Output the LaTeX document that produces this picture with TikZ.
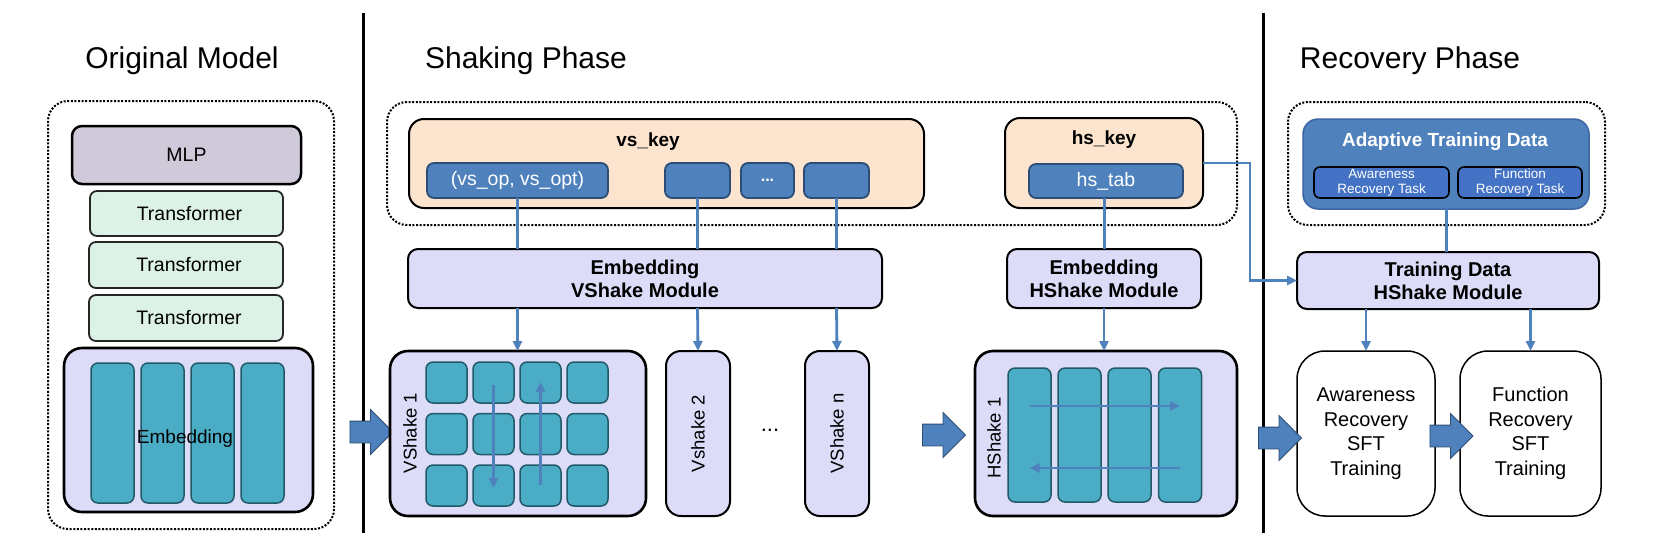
\documentclass[tikz,border=0pt]{standalone}
\usepackage{fontspec}
\setmainfont{Liberation Sans}
\usetikzlibrary{arrows.meta,shapes.arrows}
\definecolor{kblue}{HTML}{4F81BD}
\definecolor{kbluedark}{HTML}{2C4D75}
\definecolor{kblueline}{HTML}{3D66A3}
\definecolor{kpeach}{HTML}{FCE4CE}
\definecolor{klav}{HTML}{DCDCF9}
\definecolor{kmlp}{HTML}{CFC9D9}
\definecolor{ktrans}{HTML}{DCF2E6}
\definecolor{kteal}{HTML}{4BACC6}
\definecolor{ktealdark}{HTML}{215967}
\definecolor{ktask}{HTML}{4472C4}
\tikzset{
  every node/.style={inner sep=0pt, outer sep=0pt},
  title/.style={font=\fontsize{30}{36}\selectfont, anchor=base},
  dotbox/.style={draw=black, line width=2pt, dash pattern=on 2pt off 1.6pt, rounded corners=20pt},
  mlpbox/.style={draw=black, line width=2.5pt, fill=kmlp, rounded corners=10pt, font=\fontsize{19.5}{23}\selectfont},
  transbox/.style={draw=black!85, line width=1.8pt, fill=ktrans, rounded corners=7pt, font=\fontsize{19.5}{23}\selectfont},
  lavbox/.style={draw=black, line width=2.6pt, fill=klav, rounded corners=18pt},
  modbox/.style={draw=black, line width=2pt, fill=klav, rounded corners=10pt, align=center, font=\bfseries\fontsize{20}{23}\selectfont},
  peachbox/.style={draw=black, line width=2pt, fill=kpeach, rounded corners=15pt},
  keybox/.style={draw=kbluedark, line width=1.8pt, fill=kblue, rounded corners=7pt, text=white, font=\fontsize{19.5}{23}\selectfont},
  tealcell/.style={draw=ktealdark, line width=1.5pt, fill=kteal, rounded corners=7pt},
  slimbox/.style={draw=black, line width=2pt, fill=klav, rounded corners=15pt},
  sftbox/.style={draw=black, line width=1.5pt, fill=white, rounded corners=28pt, align=center, font=\fontsize{20}{24.5}\selectfont},
  adabox/.style={draw=kblueline, line width=1.5pt, fill=kblue, rounded corners=15pt},
  taskbox/.style={draw=black, line width=1.6pt, fill=ktask, rounded corners=6pt, text=white, align=center, font=\fontsize{13.5}{15}\selectfont},
  conn/.style={draw=kblue, line width=3pt},
  connarrow/.style={draw=kblue, line width=2.8pt, -{Triangle[length=10pt,width=9pt]}},
  blockarrow/.style={single arrow, draw=kbluedark, fill=kblue, line width=0.8pt, inner xsep=0pt, inner ysep=10.5pt, single arrow head extend=11.5pt, minimum height=43pt},
  rotlabel/.style={rotate=90, font=\fontsize{18.5}{22}\selectfont},
}
\begin{document}
\begin{tikzpicture}[x=1pt, y=-1pt]
\useasboundingbox[fill=white] (0,0) rectangle (1661,542);

% phase separators
\coordinate (s1a) at (363,13); \coordinate (s1b) at (363,533);
\coordinate (s2a) at (1263,13); \coordinate (s2b) at (1263,533);
\draw[line width=3pt] (s1a) -- (s1b);
\draw[line width=3pt] (s2a) -- (s2b);

% titles
\node[title] (t1) at (182,68) {Original Model};
\node[title] (t2) at (526,68) {Shaking Phase};
\node[title] (t3) at (1410,68) {Recovery Phase};

% ---------------- Original model ----------------
\node[dotbox, minimum width=286pt, minimum height=428pt] (orig) at (191,315) {};
\node[mlpbox, minimum width=229pt, minimum height=58pt] (mlp) at (186.5,155) {MLP};
\node[transbox, minimum width=193pt, minimum height=45pt] (tr1) at (186.5,213.5) {\hspace*{6pt}Transformer};
\node[transbox, minimum width=194pt, minimum height=46pt] (tr2) at (186,265) {\hspace*{6pt}Transformer};
\node[transbox, minimum width=194pt, minimum height=46pt] (tr3) at (186,318) {\hspace*{6pt}Transformer};
\node[lavbox, minimum width=249pt, minimum height=164pt] (emb) at (188.5,430) {};
\foreach \i/\cx in {1/112.5,2/162.5,3/212.5,4/262.5}
  \node[tealcell, minimum width=43pt, minimum height=140pt] (ec\i) at (\cx,433) {};
\node[font=\fontsize{19}{23}\selectfont] (embt) at (185,439) {Embedding};

\node[blockarrow] (ba1) at (366,432) {};

% ---------------- Shaking phase ----------------
\node[dotbox, minimum width=850pt, minimum height=123pt] (shk) at (812,163.5) {};
\node[peachbox, minimum width=515pt, minimum height=89pt] (vskey) at (666.5,163.5) {};
\node[font=\bfseries\fontsize{19}{23}\selectfont] (vskeyt) at (648,142) {vs\_key};
\node[keybox, minimum width=181pt, minimum height=35pt] (vsop) at (517.5,180.5) {(vs\_op, vs\_opt)};
\node[keybox, minimum width=65pt, minimum height=35pt] (vb2) at (697.5,180.5) {};
\node[keybox, minimum width=53pt, minimum height=35pt, font=\bfseries\fontsize{16}{20}\selectfont] (vb3) at (767.5,180.5) {...};
\node[keybox, minimum width=65pt, minimum height=35pt] (vb4) at (836.5,180.5) {};

\node[peachbox, minimum width=198pt, minimum height=90pt] (hskey) at (1104,163) {};
\node[font=\bfseries\fontsize{19}{23}\selectfont] (hskeyt) at (1104,140) {hs\_key};
\node[keybox, minimum width=154pt, minimum height=34pt] (hstab) at (1106,181) {hs\_tab};

\node[modbox, minimum width=474pt, minimum height=59pt] (embV) at (645,278.5) {Embedding\\VShake Module};
\node[modbox, minimum width=194pt, minimum height=59pt] (embH) at (1104,278.5) {Embedding\\HShake Module};

\draw[conn] (vsop.south) -- (vsop.south |- embV.north);
\draw[conn] (vb2.south) -- (vb2.south |- embV.north);
\draw[conn] (vb4.south) -- (vb4.south |- embV.north);
\draw[conn] (hstab.south -| embH.north) -- (embH.north);

% VShake boxes
\node[lavbox, minimum width=256pt, minimum height=165pt] (vs1) at (518,433.5) {};
\foreach \r/\cy in {1/382.5,2/434,3/485.5}
  \foreach \c/\cx in {1/446.5,2/493.5,3/540.5,4/587.5}
    \node[tealcell, minimum width=41pt, minimum height=41pt] (g\r\c) at (\cx,\cy) {};
\draw[connarrow] (g12.center |- 0,385) -- (g32.center |- 0,488);
\draw[connarrow] (g33.center |- 0,485) -- (g13.center |- 0,382);
\node[rotlabel] (vs1t) at (410,433) {VShake 1};

\node[slimbox, minimum width=64pt, minimum height=165pt] (vs2) at (698,433.5) {};
\node[rotlabel] (vs2t) at (vs2.center) {Vshake 2};
\node[font=\fontsize{22}{26}\selectfont] (vsdots) at (770,430) {...};
\node[slimbox, minimum width=64pt, minimum height=165pt] (vsn) at (837,433.5) {};
\node[rotlabel] (vsnt) at (vsn.center) {VShake n};

\draw[connarrow] (vsop.south |- embV.south) -- (vsop.south |- vs1.north);
\draw[connarrow] (vb2.south |- embV.south) -- (vs2.north);
\draw[connarrow] (vb4.south |- embV.south) -- (vsn.north);

\node[blockarrow] (ba2) at (938.5,435) {};

% HShake box
\node[lavbox, minimum width=262pt, minimum height=165pt] (hs1) at (1106,433.5) {};
\foreach \i/\cx in {1/1029.5,2/1079.5,3/1129.5,4/1180}
  \node[tealcell, minimum width=43pt, minimum height=134pt] (hc\i) at (\cx,435) {};
\draw[connarrow] (hc1.center |- 0,406) -- (hc4.center |- 0,406);
\draw[connarrow] (hc4.center |- 0,468) -- (hc1.center |- 0,468);
\node[rotlabel] (hs1t) at (994,438) {HShake 1};
\draw[connarrow] (embH.south) -- (embH.south |- hs1.north);

% ---------------- Recovery phase ----------------
\node[dotbox, minimum width=317pt, minimum height=123pt] (rec) at (1446.5,163.5) {};
\node[adabox, minimum width=286pt, minimum height=90pt] (ada) at (1446,164) {};
\node[font=\bfseries\fontsize{19}{23}\selectfont, text=white] (adat) at (1445,142) {Adaptive Training Data};
\node[taskbox, minimum width=135pt, minimum height=31pt] (task1) at (1381.5,182.5) {Awareness\\Recovery Task};
\node[taskbox, minimum width=124pt, minimum height=31pt] (task2) at (1520,182.5) {Function\\Recovery Task};

\node[modbox, minimum width=302pt, minimum height=57pt] (tdata) at (1448,280.5) {Training Data\\HShake Module};
\draw[conn] (ada.south) -- (ada.south |- tdata.north);

\coordinate (hk1) at (1250,163);
\draw[connarrow] (hskey.east) -- (hk1) -- (hk1 |- tdata.west) -- (tdata.west);

\node[sftbox, minimum width=138pt, minimum height=165pt] (aw) at (1366,433.5) {Awareness\\Recovery\\SFT\\Training};
\node[sftbox, minimum width=141pt, minimum height=165pt] (fn) at (1530.5,433.5) {Function\\Recovery\\SFT\\Training};
\draw[connarrow] (aw.north |- tdata.south) -- (aw.north);
\draw[connarrow] (fn.north |- tdata.south) -- (fn.north);

\node[blockarrow] (ba3) at (1274.5,438) {};
\node[blockarrow] (ba4) at (1446,436) {};
\end{tikzpicture}
\end{document}
